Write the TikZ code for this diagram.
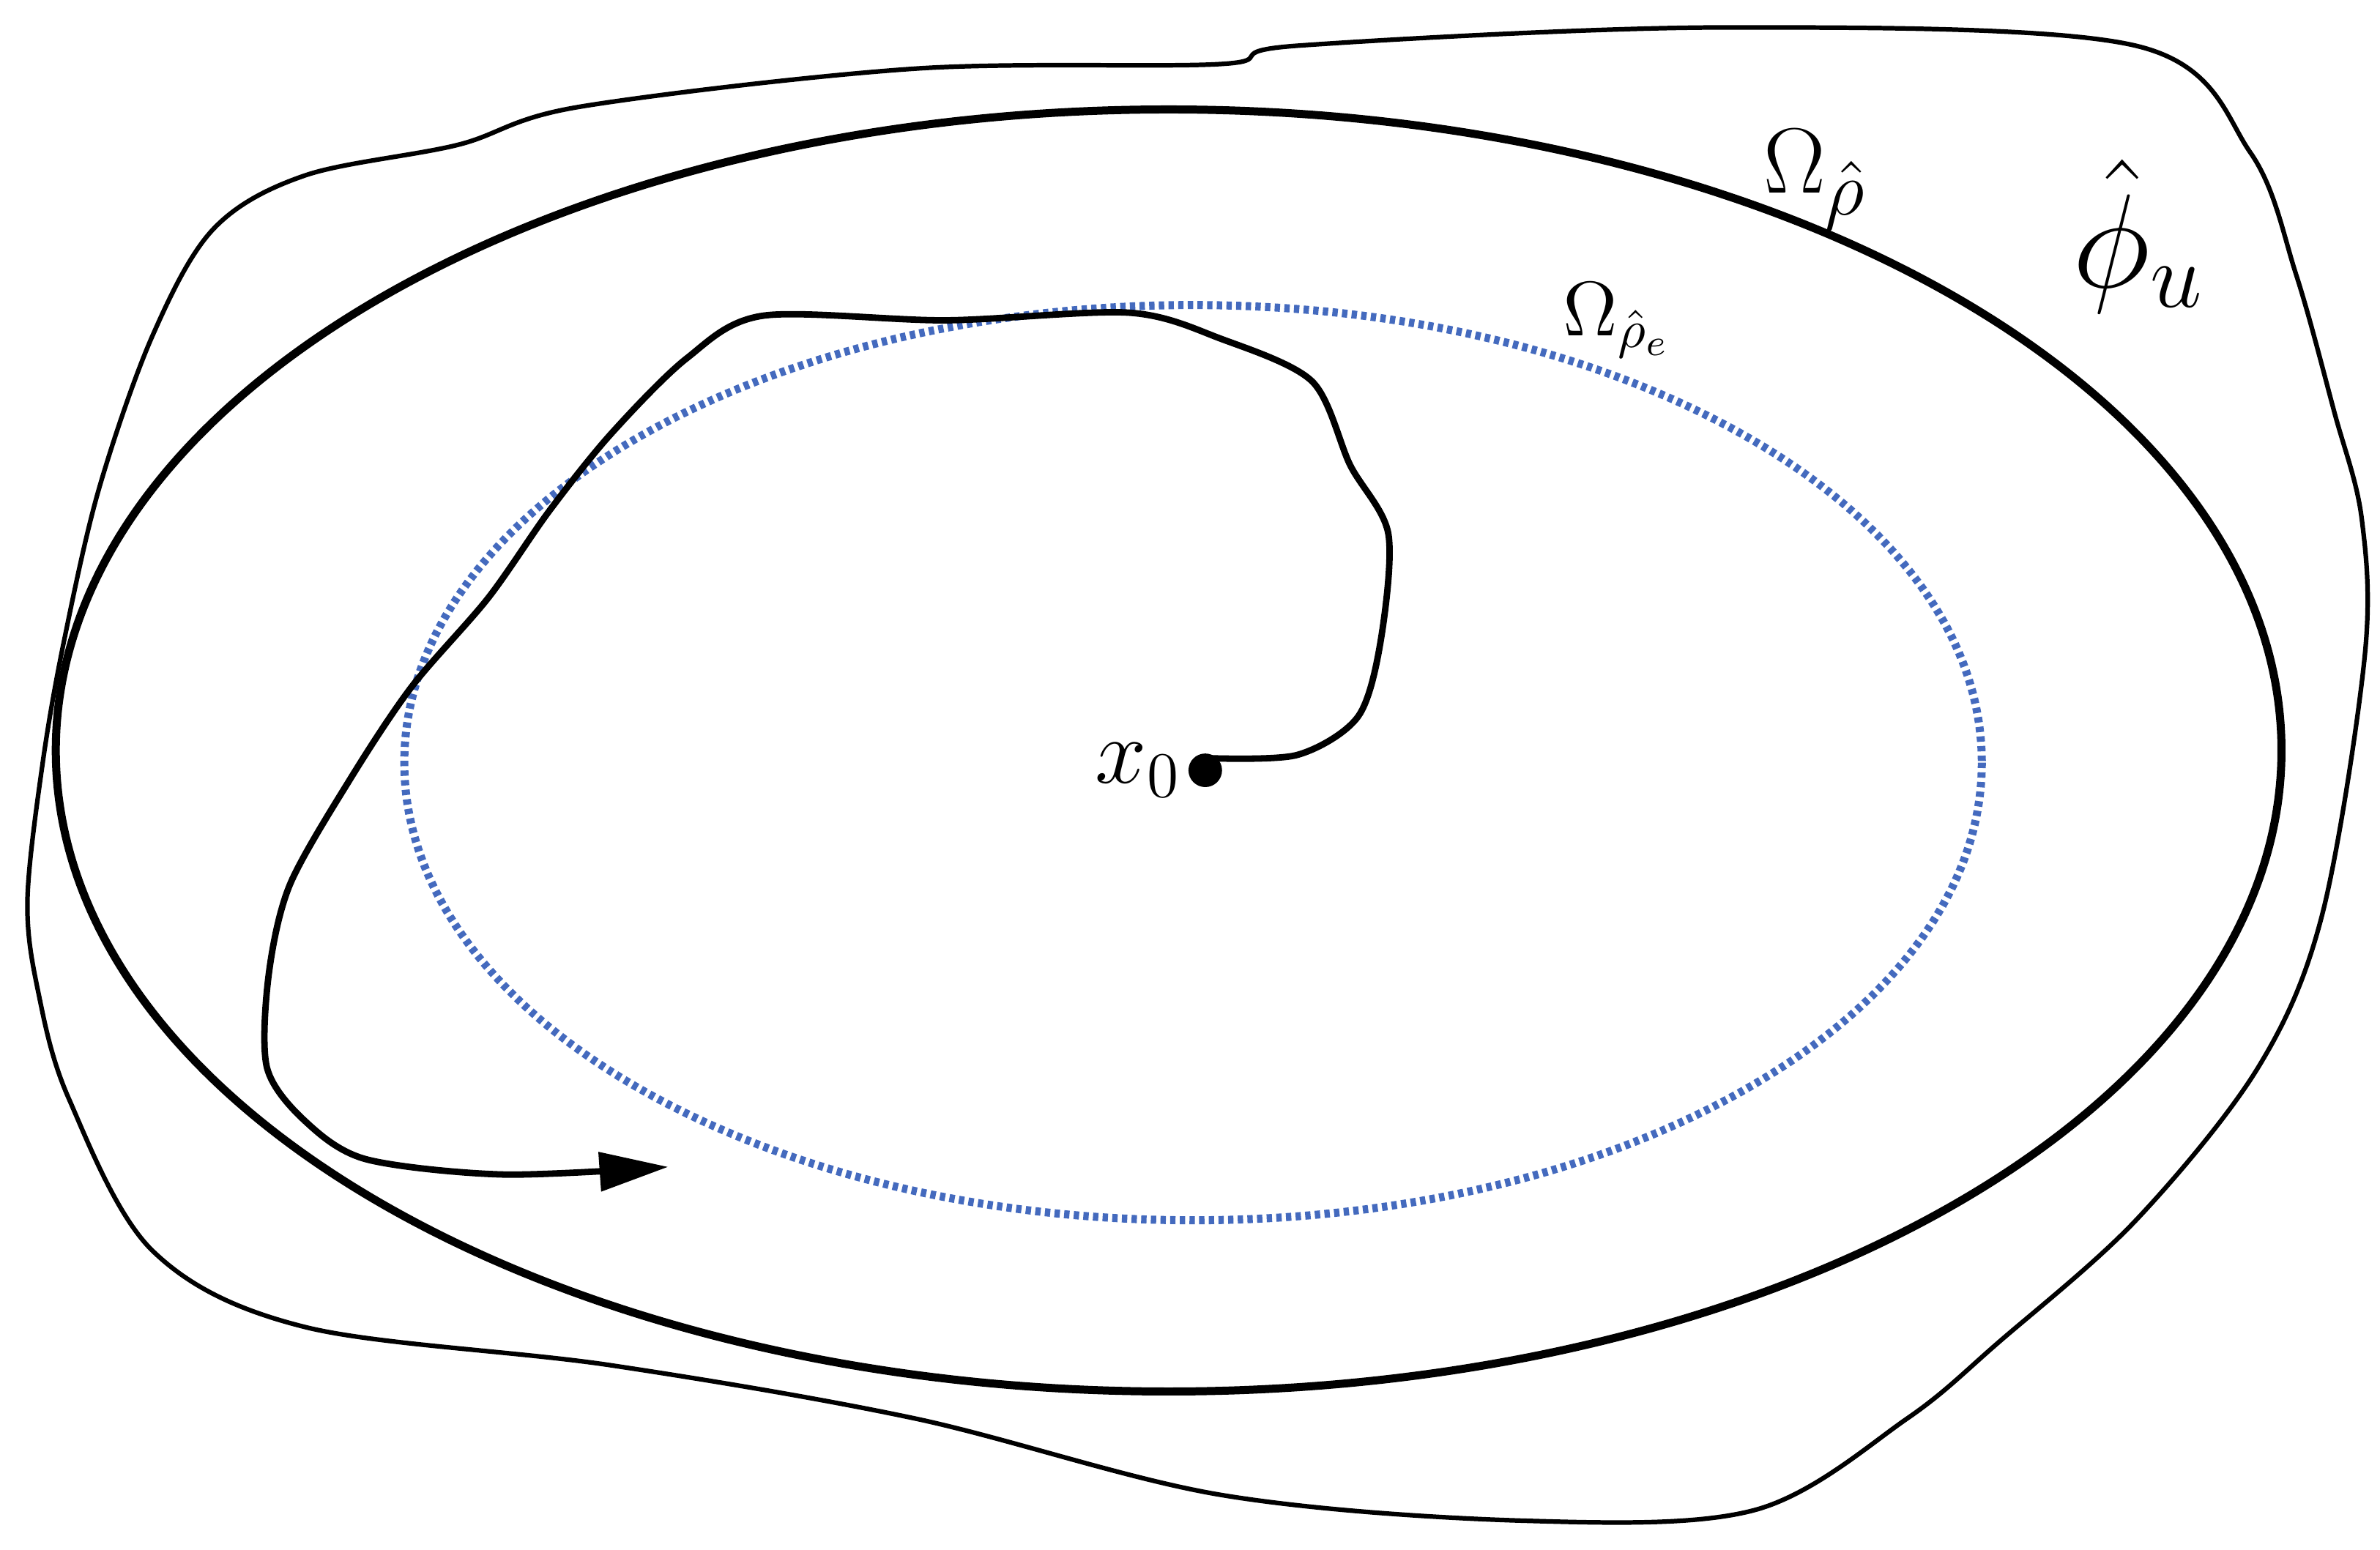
\documentclass[tikz,border=0pt]{standalone}
\usetikzlibrary{arrows.meta,shapes.geometric}
\begin{document}
\begin{tikzpicture}[x=0.01cm,y=-0.01cm,
  blob/.style={line width=0.85pt},
  bigell/.style={line width=1.5pt},
  traj/.style={line width=1.2pt},
  dotell/.style={draw={rgb,255:red,68;green,106;blue,190},line width=1.5pt,dash pattern=on 1pt off 0.8pt},
  lbl/.style={inner sep=0pt}]
\useasboundingbox (0,0) rectangle (1560,1016);
\draw[blob] plot[smooth cycle,tension=0.55] coordinates {
(18,590) (28,500) (42,420) (65,320) (100,220) (140,150) (200,115) (300,95) (380,70) (600,45) (800,42) (850,30) (1130,18) (1400,30) (1475,100) (1505,180) (1530,270) (1548,340) (1550,430) (1522,600) (1480,700) (1400,800) (1310,880) (1250,930) (1150,990) (1000,997) (800,980) (600,930) (400,895) (200,870) (100,820) (45,720) (25,650)};
\node[bigell,draw,ellipse,minimum width=14.58cm,minimum height=8.4cm,inner sep=0pt] (big) at (766,492) {};
\draw[dotell] (782,500) ellipse [x radius=517, y radius=300];
\coordinate (x0) at (790,505);
\fill (x0) circle (0.11cm);
\draw[traj,-{Triangle[length=0.45cm,width=0.25cm]}] plot[smooth,tension=0.5] coordinates {
(790,497) (850,495) (890,470) (905,420) (910,350) (885,305) (860,250) (800,222) (740,205) (620,210) (500,207) (450,235) (400,285) (360,335) (320,392) (270,450) (230,510) (190,580) (176,640) (175,700) (200,735) (240,760) (330,770) (438,765)};
\node[lbl,anchor=east,font=\fontsize{17}{20}\selectfont] (x0l) at (775,505) {$x_0$};
\node[lbl,font=\fontsize{19}{22}\selectfont] (om) at (1190,118) {$\Omega_{\hat\rho}$};
\node[lbl,font=\fontsize{14}{17}\selectfont] (ome) at (1060,210) {$\Omega_{\hat\rho_e}$};
\node[lbl,font=\fontsize{24}{28}\selectfont] (phi) at (1402,155) {$\hat\phi_u$};
\end{tikzpicture}
\end{document}
